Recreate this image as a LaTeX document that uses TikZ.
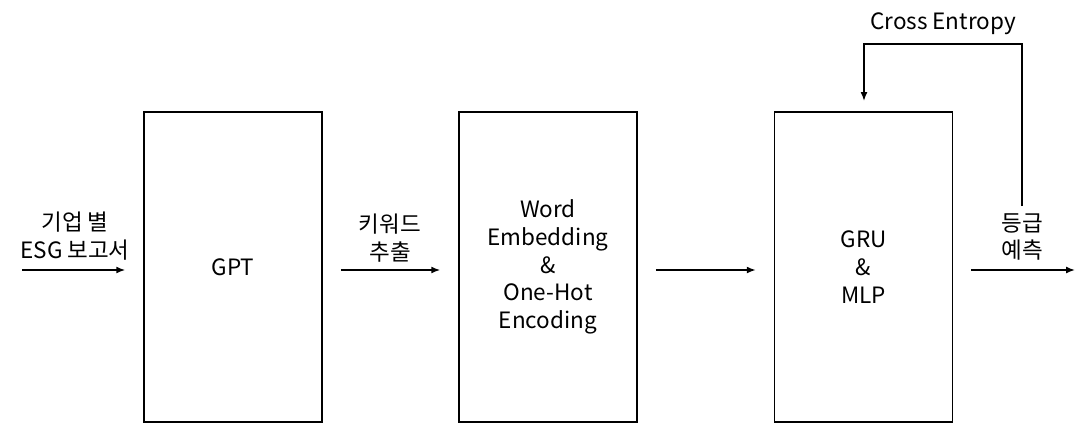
\documentclass[tikz,border=0pt]{standalone}
\usepackage{fontspec}
\setmainfont{Noto Sans CJK KR}
\usetikzlibrary{arrows.meta}
\tikzset{
    stagebox/.style={draw, line width=1.5pt, minimum width=178pt, minimum height=310pt, align=center, inner sep=0pt},
    flow/.style={line width=1.5pt, -{Latex[length=9pt,width=7pt]}},
    lbl/.style={align=center, inner sep=0pt}
}
\begin{document}
\begin{tikzpicture}[x=1pt, y=-1pt, font=\fontsize{22.5}{27.75}\selectfont]
    \useasboundingbox (0,0) rectangle (1092,444);

    % Stages
    \node[stagebox] (gpt) at (233,267) {GPT};
    \node[stagebox] (emb) at (548,267) {Word\\Embedding\\\&\\One-Hot\\Encoding};
    \node[stagebox] (gru) at (863.5,267) {GRU\\\&\\MLP};

    % Free ends
    \coordinate (in) at (22,270);
    \coordinate (out) at (1075,270);
    \coordinate (fb) at (1022,206);

    % Arrows between stages
    \draw[flow] (in) -- ([xshift=-18pt]in -| gpt.west);
    \draw[flow] ([xshift=18pt]in -| gpt.east) -- ([xshift=-18pt]in -| emb.west);
    \draw[flow] ([xshift=18pt]in -| emb.east) -- ([xshift=-18pt]in -| gru.west);
    \draw[flow] ([xshift=18pt]in -| gru.east) -- (out);

    % Feedback loop
    \draw[flow] (fb) |- (864,44) -- (864,101);

    % Labels
    \node[lbl] (lin) at (75,236) {기업 별\\ESG 보고서};
    \node[lbl] (lkw) at (390,238) {키워드\\추출};
    \node[lbl] (lout) at (1022,237) {등급\\예측};
    \node[lbl] (lce) at (943,24) {Cross Entropy};
\end{tikzpicture}
\end{document}
